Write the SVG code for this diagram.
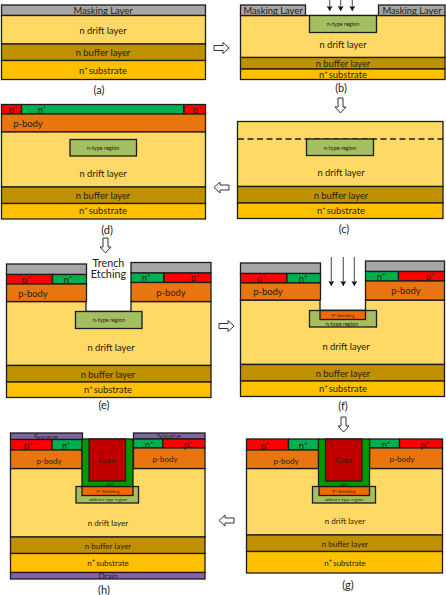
<svg xmlns="http://www.w3.org/2000/svg" width="446" height="595" viewBox="0 0 446 595">
<style>
rect,.edge{stroke:#1c1c1c;stroke-width:1.3}
.drift{fill:#ffd966}.buf{fill:#bf9000}.sub{fill:#ffc000}.mask{fill:#a6a6a6}
.pp{fill:#ff0000}.np{fill:#00b050}.body{fill:#e97510}.nt{fill:#a3bf62}
.ox{fill:#009a00}.gate{fill:#c00000}.metal{fill:#8064a2}.shield{fill:#f06a00}
text{font-family:"Lato","Open Sans","Liberation Sans",sans-serif;fill:#2a2208;text-anchor:middle}
.t{font-size:9.4px}.m{font-size:8px}.s{font-size:5.5px}.xs{font-size:4.3px}.cap{font-size:11px;fill:#222}.big{font-size:10.8px}
.sp{font-size:6px}
.ah{fill:#fff;stroke:#333;stroke-width:1}
.ln{stroke:#555;stroke-width:1.1;fill:none}
</style>
<defs>
<marker id="head" markerUnits="userSpaceOnUse" markerWidth="6" markerHeight="6" refX="3" refY="5" orient="auto" viewBox="0 0 6 6"><path d="M1 -3L5 3H1Z" fill="none"/></marker>
<marker id="tip" markerUnits="userSpaceOnUse" markerWidth="6" markerHeight="6" refX="5" refY="3" orient="auto" viewBox="0 0 6 6"><path d="M0 0L5 3L0 6L1 3Z" fill="#111"/></marker>
<path id="dn" d="M-2.5 0H2.5V9H5.500L0 15L-5.500 9H-2.500Z"/>
<path id="rt" d="M0 -2.500H9V-5.500L15 0L9 5.500V2.500H0Z"/>
</defs>

<g id="panel-a">
<rect class="mask" x="1.500" y="5" width="204" height="10.500"/>
<rect class="drift" x="1.500" y="15.500" width="204" height="28.500"/>
<rect class="buf" x="1.500" y="44" width="204" height="16.500"/>
<rect class="sub" x="1.500" y="60.500" width="204" height="19"/>
<text class="t" x="103" y="13.800">Masking Layer</text>
<text class="t" x="103" y="34">n drift layer</text>
<text class="t" x="103" y="56">n buffer layer</text>
<text class="t" x="103" y="74">n<tspan class="sp" dy="-3">+</tspan><tspan dy="3" dx="1">substrate</tspan></text>
<text class="cap" x="99" y="94">(a)</text>
</g>

<g id="panel-b">
<rect class="drift" x="240.500" y="15.500" width="204.500" height="42"/>
<rect class="mask" x="240.500" y="5" width="65" height="10.500"/>
<rect class="mask" x="378.500" y="5" width="66.500" height="10.500"/>
<rect class="nt" x="309.500" y="15.500" width="67" height="17"/>
<rect class="buf" x="240.500" y="57.500" width="204.500" height="11.500"/>
<rect class="sub" x="240.500" y="69" width="204.500" height="10.500"/>
<text class="t" x="273" y="13.800">Masking Layer</text>
<text class="t" x="412" y="13.800">Masking Layer</text>
<text class="s" x="343" y="26">n-type region</text>
<text class="t" x="343" y="48">n drift layer</text>
<text class="t" x="343" y="66.500">n buffer layer</text>
<text class="t" x="343" y="77.500">n<tspan class="sp" dy="-3">+</tspan><tspan dy="3" dx="1">substrate</tspan></text>
<text class="cap" x="341" y="92">(b)</text>
</g>

<g id="panel-c">
<rect class="drift" x="237.500" y="121.500" width="205.500" height="65"/>
<rect class="buf" x="237.500" y="186.500" width="205.500" height="16.500"/>
<rect class="sub" x="237.500" y="203" width="205.500" height="15.500"/>
<path d="M238 139H443" stroke="#1c1c1c" stroke-width="1.300" stroke-dasharray="6 3.500" fill="none"/>
<rect class="nt" x="306.500" y="139" width="67" height="16.500"/>
<text class="s" x="340" y="149.500">n-type region</text>
<text class="t" x="341" y="176">n drift layer</text>
<text class="t" x="341" y="199">n buffer layer</text>
<text class="t" x="341" y="214">n<tspan class="sp" dy="-3">+</tspan><tspan dy="3" dx="1">substrate</tspan></text>
<text class="cap" x="344" y="233">(c)</text>
</g>

<g id="panel-d">
<rect class="pp" x="1.500" y="104.500" width="20" height="9.500"/>
<rect class="np" x="21.500" y="104.500" width="162.500" height="9.500"/>
<rect class="pp" x="184" y="104.500" width="21.500" height="9.500"/>
<rect class="body" x="1.500" y="114" width="204" height="18"/>
<rect class="drift" x="1.500" y="132" width="204" height="55"/>
<rect class="buf" x="1.500" y="187" width="204" height="16.500"/>
<rect class="sub" x="1.500" y="203.500" width="204" height="15.500"/>
<rect class="nt" x="70" y="139.500" width="66.500" height="16.500"/>
<text class="t" x="13" y="113">p<tspan class="sp" dy="-3">+</tspan></text>
<text class="t" x="42" y="113">n<tspan class="sp" dy="-3">+</tspan></text>
<text class="t" x="197" y="113">p<tspan class="sp" dy="-3">+</tspan></text>
<text class="t" x="28" y="127">p-body</text>
<text class="s" x="103" y="150">n-type region</text>
<text class="t" x="103" y="177">n drift layer</text>
<text class="t" x="103" y="199">n buffer layer</text>
<text class="t" x="103" y="214">n<tspan class="sp" dy="-3">+</tspan><tspan dy="3" dx="1">substrate</tspan></text>
<text class="cap" x="107" y="234">(d)</text>
</g>

<g id="panel-e">
<path class="drift edge" d="M6.500 301.500H86V311.500H131V301.500H211V365.500H6.500Z"/>
<rect class="mask" x="6.500" y="264" width="80" height="10.500"/>
<rect class="pp" x="6.500" y="274.500" width="46" height="9.500"/>
<rect class="np" x="52.500" y="274.500" width="34" height="9.500"/>
<rect class="body" x="6.500" y="284" width="80" height="17.500"/>
<rect class="mask" x="131" y="262.500" width="80" height="10.500"/>
<rect class="np" x="131" y="273" width="33" height="9.500"/>
<rect class="pp" x="164" y="273" width="47" height="9.500"/>
<rect class="body" x="131" y="282.500" width="80" height="19"/>
<rect class="nt" x="75.500" y="311.500" width="66.500" height="17"/>
<rect class="buf" x="6.500" y="365.500" width="204.500" height="16.500"/>
<rect class="sub" x="6.500" y="382" width="204.500" height="15.500"/>
<text class="big" x="108.500" y="266.500">Trench</text>
<text class="big" x="108.500" y="278">Etching</text>
<text class="t" x="26" y="283">p<tspan class="sp" dy="-3">+</tspan></text>
<text class="t" x="68" y="283">n<tspan class="sp" dy="-3">+</tspan></text>
<text class="t" x="146" y="281">n<tspan class="sp" dy="-3">+</tspan></text>
<text class="t" x="195" y="281">p<tspan class="sp" dy="-3">+</tspan></text>
<text class="t" x="33" y="297">p-body</text>
<text class="t" x="171" y="296">p-body</text>
<text class="s" x="109" y="322">n-type region</text>
<text class="t" x="111" y="351">n drift layer</text>
<text class="t" x="108" y="378">n buffer layer</text>
<text class="t" x="108" y="393">n<tspan class="sp" dy="-3">+</tspan><tspan dy="3" dx="1">substrate</tspan></text>
<text class="cap" x="104" y="409">(e)</text>
</g>

<g id="panel-f">
<path class="drift edge" d="M240.500 300H320V310.500H365.500V300H444.500V364.500H240.500Z"/>
<rect class="mask" x="240.500" y="263" width="80" height="10.500"/>
<rect class="pp" x="240.500" y="273.500" width="46.500" height="9.500"/>
<rect class="np" x="287" y="273.500" width="33.500" height="9.500"/>
<rect class="body" x="240.500" y="283" width="80" height="17"/>
<rect class="mask" x="365.500" y="261" width="79" height="10.500"/>
<rect class="np" x="365.500" y="271.500" width="33" height="9.500"/>
<rect class="pp" x="398.500" y="271.500" width="46" height="9.500"/>
<rect class="body" x="365.500" y="281" width="79" height="19"/>
<rect class="nt" x="309.500" y="310.500" width="67" height="16.500"/>
<rect class="shield" x="320" y="310.500" width="45.500" height="9"/>
<rect class="buf" x="240.500" y="364.500" width="204" height="16.500"/>
<rect class="sub" x="240.500" y="381" width="204" height="15.500"/>
<text class="t" x="261" y="282">p<tspan class="sp" dy="-3">+</tspan></text>
<text class="t" x="303" y="282">n<tspan class="sp" dy="-3">+</tspan></text>
<text class="t" x="381" y="280">n<tspan class="sp" dy="-3">+</tspan></text>
<text class="t" x="430" y="280">p<tspan class="sp" dy="-3">+</tspan></text>
<text class="t" x="268" y="295">p-body</text>
<text class="t" x="406" y="294">p-body</text>
<text class="xs" x="343" y="317">P<tspan dy="-1.500" font-size="3.500">+</tspan><tspan dy="1.500"> Shielding</tspan></text>
<text class="s" x="342" y="325.500">n-type region</text>
<text class="t" x="346" y="350">n drift layer</text>
<text class="t" x="343" y="377">n buffer layer</text>
<text class="t" x="343" y="392">n<tspan class="sp" dy="-3">+</tspan><tspan dy="3" dx="1">substrate</tspan></text>
<text class="cap" x="343" y="410">(f)</text>
</g>

<g id="panel-g">
<rect class="drift" x="246.500" y="468.500" width="196" height="66.500"/>
<rect class="pp" x="246.500" y="439" width="42" height="11"/>
<rect class="np" x="288.500" y="439" width="30" height="11"/>
<rect class="body" x="246.500" y="450" width="72" height="18.500"/>
<rect class="np" x="369.500" y="439" width="30" height="9"/>
<rect class="pp" x="399.500" y="439" width="43" height="9"/>
<rect class="body" x="369.500" y="448" width="73" height="20.500"/>
<rect class="nt" x="312.500" y="486.500" width="63" height="16.500"/>
<rect class="shield" x="319" y="486.500" width="50.500" height="9"/>
<rect class="ox" x="318.500" y="439" width="51" height="47.500"/>
<rect class="gate" x="325.500" y="439" width="36.500" height="42"/>
<rect class="buf" x="246.500" y="535" width="196" height="16.500"/>
<rect class="sub" x="246.500" y="551.500" width="196" height="21.500"/>
<text class="t" x="265" y="449">p<tspan class="sp" dy="-3">+</tspan></text>
<text class="t" x="303" y="449">n<tspan class="sp" dy="-3">+</tspan></text>
<text class="t" x="386" y="448">n<tspan class="sp" dy="-3">+</tspan></text>
<text class="t" x="425" y="448">p<tspan class="sp" dy="-3">+</tspan></text>
<text class="m" x="286" y="463.500">p-body</text>
<text class="m" x="402" y="461.500">p-body</text>
<text class="m" x="344" y="463">Gate</text>
<text class="xs" x="344" y="485.500">AlN</text>
<text class="xs" x="344" y="493">P<tspan dy="-1.500" font-size="3.500">+</tspan><tspan dy="1.500"> Shielding</tspan></text>
<text class="xs" x="344" y="500.500">added n-type region</text>
<text class="m" x="345" y="524">n drift layer</text>
<text class="m" x="345" y="546.500">n buffer layer</text>
<text class="m" x="345" y="565.500">n<tspan class="sp" dy="-3">+</tspan><tspan dy="3" dx="1">substrate</tspan></text>
<text class="cap" x="348" y="589">(g)</text>
</g>

<g id="panel-h">
<rect class="drift" x="10.500" y="468.500" width="194.500" height="68.500"/>
<rect class="metal" x="10.500" y="433" width="72" height="6.500"/>
<rect class="pp" x="10.500" y="439.500" width="41.500" height="10.500"/>
<rect class="np" x="52" y="439.500" width="30" height="10.500"/>
<rect class="body" x="10.500" y="450" width="71.500" height="18.500"/>
<rect class="metal" x="133.500" y="433" width="71.500" height="6"/>
<rect class="np" x="133.500" y="439" width="29.500" height="9"/>
<rect class="pp" x="163" y="439" width="42" height="9"/>
<rect class="body" x="133.500" y="448" width="71.500" height="20.500"/>
<rect class="nt" x="76" y="486.500" width="62.500" height="16.500"/>
<rect class="shield" x="82" y="486.500" width="51" height="9"/>
<rect class="ox" x="82" y="439" width="51" height="47.500"/>
<rect class="gate" x="89" y="439" width="36.500" height="42"/>
<rect class="buf" x="10.500" y="537" width="194.500" height="16.500"/>
<rect class="sub" x="10.500" y="553.500" width="194.500" height="19"/>
<rect class="metal" x="10.500" y="572.500" width="194.500" height="6.500"/>
<text class="m" x="46" y="439.500">Source</text>
<text class="m" x="169" y="439">Source</text>
<text class="t" x="28" y="449">p<tspan class="sp" dy="-3">+</tspan></text>
<text class="t" x="66" y="449">n<tspan class="sp" dy="-3">+</tspan></text>
<text class="t" x="149" y="448">n<tspan class="sp" dy="-3">+</tspan></text>
<text class="t" x="188" y="448">p<tspan class="sp" dy="-3">+</tspan></text>
<text class="m" x="49" y="463.500">p-body</text>
<text class="m" x="165" y="461.500">p-body</text>
<text class="m" x="107" y="463">Gate</text>
<text class="xs" x="110" y="485.500">AlN</text>
<text class="xs" x="108" y="493">P<tspan dy="-1.500" font-size="3.500">+</tspan><tspan dy="1.500"> Shielding</tspan></text>
<text class="xs" x="108" y="500.500">added n-type region</text>
<text class="m" x="108" y="526">n drift layer</text>
<text class="m" x="108" y="548.500">n buffer layer</text>
<text class="m" x="108" y="565.500">n<tspan class="sp" dy="-3">+</tspan><tspan dy="3" dx="1">substrate</tspan></text>
<text class="m" x="108" y="579">Drain</text>
<text class="cap" x="104" y="594">(h)</text>
</g>

<g id="connectors">
<use href="#rt" class="ah" transform="translate(214 48)"/>
<use href="#dn" class="ah" transform="translate(340.500 98)"/>
<use href="#rt" class="ah" transform="translate(229 187.500) rotate(180)"/>
<use href="#dn" class="ah" transform="translate(105.500 238)"/>
<use href="#rt" class="ah" transform="translate(219 326)"/>
<use href="#dn" class="ah" transform="translate(343.500 417)"/>
<use href="#rt" class="ah" transform="translate(234 520.500) rotate(180)"/>
<path class="ln" d="M329.700 0V11" marker-end="url(#tip)"/>
<path class="ln" d="M340.700 0V11" marker-end="url(#tip)"/>
<path class="ln" d="M352.300 0V11" marker-end="url(#tip)"/>
<path class="ln" d="M331.300 257V286" marker-end="url(#tip)"/>
<path class="ln" d="M343.300 257V286" marker-end="url(#tip)"/>
<path class="ln" d="M354.300 257V286" marker-end="url(#tip)"/>
</g>
</svg>
